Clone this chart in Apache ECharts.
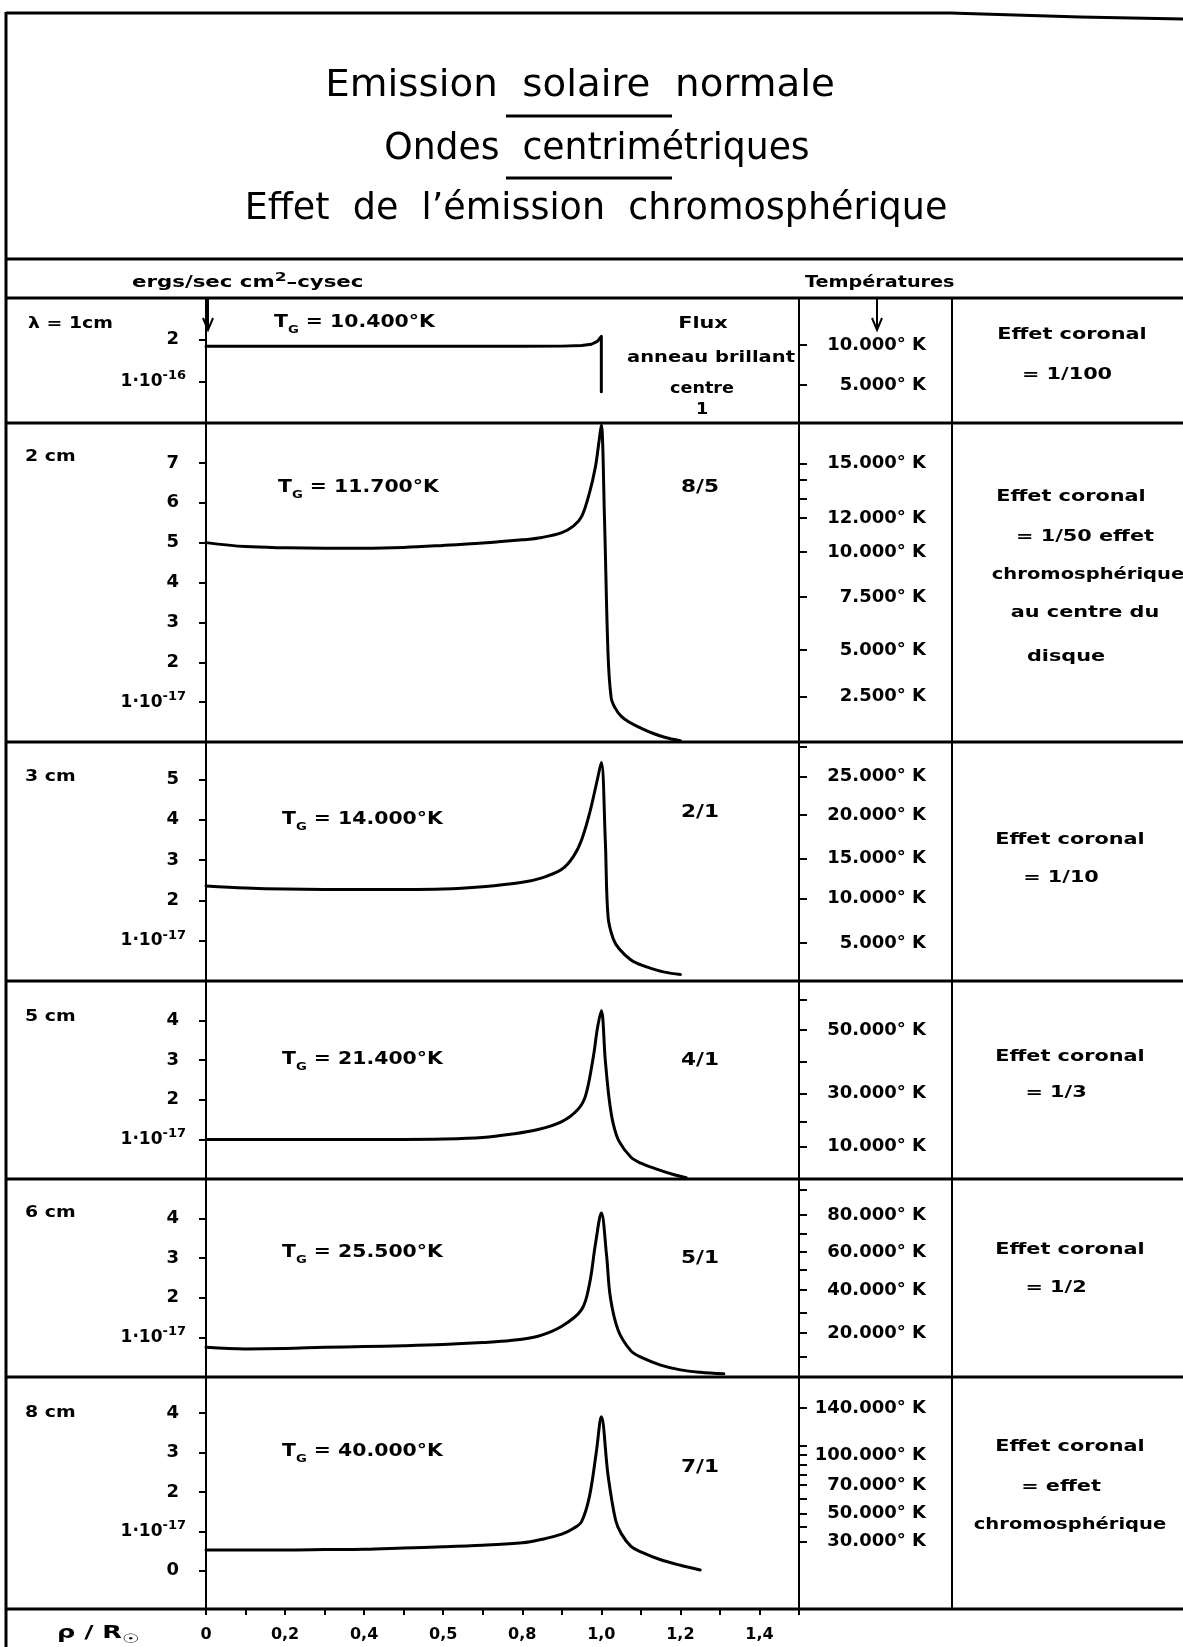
<!DOCTYPE html>
<html><head><meta charset="utf-8">
<script src="https://cdn.jsdelivr.net/npm/echarts@6/dist/echarts.min.js"></script>
<style>html,body{margin:0;padding:0;background:#fff}#c{width:1183px;height:1647px}</style>
</head><body><div id="c"></div>
<script>
// ---------------- DATA ----------------
const wavelengths = ['λ = 1cm', '2 cm', '3 cm', '5 cm', '6 cm', '8 cm'];
const tgValues = ['10.400°K', '11.700°K', '14.000°K', '21.400°K', '25.500°K', '40.000°K'];
const fluxHeader = ['Flux', 'anneau brillant', 'centre', '1'];
const fluxRatios = ['', '8/5', '2/1', '4/1', '5/1', '7/1'];
const coronalNotes = [
  ['Effet coronal', '= 1/100'],
  ['Effet coronal', '= 1/50 effet', 'chromosphérique', 'au centre du', 'disque'],
  ['Effet coronal', '= 1/10'],
  ['Effet coronal', '= 1/3'],
  ['Effet coronal', '= 1/2'],
  ['Effet coronal', '= effet', 'chromosphérique']
];

// curves: rho / R_sun  vs flux
const rho1 = [0, 0.2, 0.4, 0.6, 0.8, 0.9, 0.95, 0.975, 0.99, 1.0, 1.0];
const flux1 = [1.84, 1.84, 1.84, 1.84, 1.84, 1.845, 1.86, 1.89, 1.96, 2.08, 0.75];

const rho2 = [0, 0.1, 0.2, 0.3, 0.4, 0.5, 0.6, 0.7, 0.8, 0.85, 0.9, 0.93, 0.95, 0.97, 0.985, 0.995, 1.0, 1.008, 1.017, 1.025, 1.035, 1.05, 1.07, 1.1, 1.13, 1.16, 1.2];
const flux2 = [5.0, 4.9, 4.87, 4.86, 4.86, 4.88, 4.93, 4.99, 5.07, 5.13, 5.25, 5.42, 5.65, 6.25, 6.9, 7.6, 7.95, 5.6, 2.2, 1.1, 0.85, 0.65, 0.5, 0.35, 0.22, 0.12, 0.03];

const rho3 = [0, 0.1, 0.2, 0.3, 0.4, 0.5, 0.6, 0.7, 0.8, 0.85, 0.9, 0.93, 0.95, 0.97, 0.99, 1.0, 1.01, 1.017, 1.03, 1.045, 1.075, 1.1, 1.13, 1.16, 1.2];
const flux3 = [2.36, 2.31, 2.28, 2.27, 2.27, 2.27, 2.28, 2.34, 2.45, 2.56, 2.77, 3.1, 3.5, 4.15, 5.0, 5.42, 3.5, 1.6, 1.05, 0.8, 0.52, 0.4, 0.3, 0.22, 0.16];

const rho4 = [0, 0.1, 0.2, 0.3, 0.4, 0.5, 0.6, 0.7, 0.77, 0.84, 0.9, 0.94, 0.96, 0.98, 0.99, 1.0, 1.01, 1.02, 1.03, 1.045, 1.075, 1.1, 1.14, 1.18, 1.215];
const flux4 = [1.0, 1.0, 1.0, 1.0, 1.0, 1.0, 1.01, 1.05, 1.13, 1.25, 1.45, 1.75, 2.1, 3.1, 3.8, 4.25, 3.0, 2.0, 1.4, 0.95, 0.55, 0.4, 0.25, 0.12, 0.03];

const rho5 = [0, 0.1, 0.2, 0.3, 0.4, 0.5, 0.6, 0.7, 0.77, 0.84, 0.9, 0.95, 0.97, 0.985, 1.0, 1.013, 1.023, 1.043, 1.075, 1.1, 1.15, 1.2, 1.25, 1.31];
const flux5 = [0.75, 0.71, 0.72, 0.75, 0.77, 0.79, 0.82, 0.87, 0.92, 1.03, 1.28, 1.7, 2.35, 3.35, 4.14, 3.1, 2.0, 1.17, 0.66, 0.5, 0.3, 0.18, 0.12, 0.08];

const rho6 = [0, 0.1, 0.2, 0.3, 0.4, 0.5, 0.6, 0.7, 0.8, 0.85, 0.9, 0.93, 0.95, 0.97, 0.987, 1.0, 1.017, 1.036, 1.05, 1.075, 1.1, 1.15, 1.2, 1.25];
const flux6 = [0.53, 0.53, 0.53, 0.54, 0.55, 0.58, 0.61, 0.65, 0.71, 0.8, 0.93, 1.08, 1.25, 1.89, 2.99, 3.91, 2.42, 1.29, 0.95, 0.62, 0.48, 0.28, 0.14, 0.02];

// tick labels
const xTickValues = [0, 0.2, 0.4, 0.6, 0.8, 1.0, 1.2, 1.4];
const xTickLabels = ['0', '0,2', '0,4', '0,5', '0,8', '1,0', '1,2', '1,4'];
const fluxTickValues = [[1, 2], [1, 2, 3, 4, 5, 6, 7], [1, 2, 3, 4, 5], [1, 2, 3, 4], [1, 2, 3, 4], [0, 1, 2, 3, 4]];
const fluxTickLabels = [
  ['1·10^-16', '2'],
  ['1·10^-17', '2', '3', '4', '5', '6', '7'],
  ['1·10^-17', '2', '3', '4', '5'],
  ['1·10^-17', '2', '3', '4'],
  ['1·10^-17', '2', '3', '4'],
  ['0', '1·10^-17', '2', '3', '4']
];
// temperature scale ticks, expressed on each panel's flux scale
const tempTickPos = [
  [1.87, 0.91],
  [6.99, 6.57, 6.11, 5.62, 4.76, 3.64, 2.31, 1.14],
  [5.81, 5.07, 4.12, 3.04, 2.05, 0.94],
  [4.52, 3.76, 2.96, 2.16, 1.45, 0.82],
  [4.72, 4.09, 3.63, 3.16, 2.70, 2.20, 1.61, 1.11, 0.51],
  [4.13, 3.17, 2.94, 2.69, 2.43, 2.18, 1.82, 1.46, 1.11, 0.74]
];
const tempTickLabels = [
  ['10.000° K', '5.000° K'],
  ['15.000° K', '', '', '12.000° K', '10.000° K', '7.500° K', '5.000° K', '2.500° K'],
  ['', '25.000° K', '20.000° K', '15.000° K', '10.000° K', '5.000° K'],
  ['', '50.000° K', '', '30.000° K', '', '10.000° K'],
  ['', '80.000° K', '', '60.000° K', '', '40.000° K', '', '20.000° K', ''],
  ['140.000° K', '', '100.000° K', '', '', '70.000° K', '', '50.000° K', '', '30.000° K']
];

// ---------------- LAYOUT ----------------
const FONT = '"DejaVu Sans", "Liberation Sans", sans-serif';
const TFONT = '"DejaVu Sans", "Liberation Sans", sans-serif';
const bounds = [298, 423, 742, 981, 1179, 1377, 1609];
const yMin = [0, 0, 0, 0, 0, -0.97];
const yMax = [3, 8, 5.93, 5, 5, 4.92];
const X0 = 206, PW = 593, XMAX = 1.5;
const rhoList = [rho1, rho2, rho3, rho4, rho5, rho6];
const fluxList = [flux1, flux2, flux3, flux4, flux5, flux6];

function idxOf(arr, v) { return arr.findIndex(a => Math.abs(a - v) < 1e-6); }

const grids = [], xAxes = [], yAxes = [], series = [];
for (let i = 0; i < 6; i++) {
  grids.push({ left: X0, width: PW, top: bounds[i], height: bounds[i + 1] - bounds[i] });
  const last = i === 5;
  const minorTicks = [];
  for (let k = 0; k <= 15; k++) minorTicks.push(k / 10);
  xAxes.push({
    gridIndex: i, type: 'value', min: 0, max: XMAX, show: last,
    position: 'bottom',
    axisLine: { show: false, onZero: false },
    axisTick: { show: true, length: 6, customValues: minorTicks, lineStyle: { color: '#000', width: 2 } },
    axisLabel: {
      customValues: xTickValues, margin: 18, color: '#000', fontSize: 16, fontWeight: 'bold', fontFamily: FONT,
      formatter: v => { const k = idxOf(xTickValues, v); return k < 0 ? '' : xTickLabels[k]; }
    },
    splitLine: { show: false }
  });
  yAxes.push({
    gridIndex: i, type: 'value', min: yMin[i], max: yMax[i], position: 'left',
    axisLine: { show: true, onZero: false, lineStyle: { color: '#000', width: 2 } },
    axisTick: { show: true, length: 7, customValues: fluxTickValues[i], lineStyle: { color: '#000', width: 2 } },
    axisLabel: {
      customValues: fluxTickValues[i], margin: 20, color: '#000',
      formatter: v => {
        const k = idxOf(fluxTickValues[i], v); if (k < 0) return '';
        const s = fluxTickLabels[i][k];
        if (s.indexOf('^') >= 0) { const p = s.split('^'); return '{b|' + p[0] + '}{s|' + p[1] + '}'; }
        return '{n|' + s + '}';
      },
      rich: {
        b: { fontSize: 17, fontWeight: 'bold', fontFamily: FONT, color: '#000', lineHeight: 24 },
        s: { fontSize: 13, fontWeight: 'bold', fontFamily: FONT, color: '#000', lineHeight: 12, verticalAlign: 'top' },
        n: { fontSize: 18, fontWeight: 'bold', fontFamily: FONT, color: '#000', padding: [0, 7, 0, 0] }
      }
    },
    splitLine: { show: false }
  });
  yAxes.push({
    gridIndex: i, type: 'value', min: yMin[i], max: yMax[i], position: 'right',
    axisLine: { show: true, onZero: false, lineStyle: { color: '#000', width: 2 } },
    axisTick: { show: true, length: 8, customValues: tempTickPos[i], lineStyle: { color: '#000', width: 2 } },
    axisLabel: {
      customValues: tempTickPos[i], margin: 127, align: 'right', color: '#000',
      fontSize: 18, fontWeight: 'bold', fontFamily: FONT,
      formatter: v => { const k = idxOf(tempTickPos[i], v); return k < 0 ? '' : tempTickLabels[i][k]; }
    },
    splitLine: { show: false }
  });
  series.push({
    type: 'line', xAxisIndex: i, yAxisIndex: 2 * i,
    data: rhoList[i].map((r, k) => [r, fluxList[i][k]]),
    symbol: 'none', smooth: i === 0 ? false : 0.35,
    lineStyle: { color: '#000', width: 3, join: 'round', cap: 'round' }, silent: true, animation: false
  });
}

// ---------------- GRAPHICS (frame + texts) ----------------
const g = [];
function hline(y, x1, x2, w) { g.push({ type: 'line', shape: { x1: x1, y1: y, x2: x2, y2: y }, style: { stroke: '#000', lineWidth: w } }); }
function vline(x, y1, y2, w) { g.push({ type: 'line', shape: { x1: x, y1: y1, x2: x, y2: y2 }, style: { stroke: '#000', lineWidth: w } }); }
function text(t, x, y, size, opts) {
  opts = opts || {};
  g.push({ type: 'text', x: x, y: y, scaleX: opts.sx || 1, style: Object.assign({
    text: t, fill: '#000', fontSize: size, fontWeight: opts.weight || 'bold', fontFamily: opts.family || FONT,
    align: opts.align || 'center', verticalAlign: 'middle'
  }, opts.rich ? { rich: opts.rich } : {}) });
}
function arrow(x, y1, y2) {
  vline(x, y1, y2, 2);
  g.push({ type: 'polyline', shape: { points: [[x - 5, y2 - 12], [x, y2], [x + 5, y2 - 12]] }, style: { stroke: '#000', lineWidth: 2, fill: null } });
}

// frame
g.push({ type: 'polyline', shape: { points: [[6, 13], [950, 13], [1080, 17], [1183, 19]] }, style: { stroke: '#000', lineWidth: 3, fill: null } });
vline(6, 12, 1647, 3);
[259, 298].concat(bounds.slice(1)).forEach(y => hline(y, 6, 1183, 3));
vline(952, 298, 1609, 2);
arrow(208, 298, 330);
arrow(877, 298, 330);

// title
text('Emission  solaire  normale', 580, 86, 38, { weight: 'normal', family: TFONT, sx: 1.02 });
text('Ondes  centrimétriques', 597, 149, 38, { weight: 'normal', family: TFONT, sx: 0.95 });
text('Effet  de  l’émission  chromosphérique', 596, 209, 38, { weight: 'normal', family: TFONT, sx: 0.96 });
hline(116, 506, 672, 3);
hline(178, 506, 672, 3);

// header row
text('{h|ergs/sec cm}{s|2}{h|–cysec}', 132, 283, 16, { align: 'left', sx: 1.42, rich: {
  h: { fontSize: 15, fontWeight: 'bold', fontFamily: FONT, lineHeight: 22 },
  s: { fontSize: 12, fontWeight: 'bold', fontFamily: FONT, lineHeight: 12, verticalAlign: 'top' } } });
text('Températures', 805, 283, 15, { align: 'left', sx: 1.28 });

// per-panel texts
const wlY = [324, 457, 777, 1017, 1213, 1413];
const tgY = [323, 488, 820, 1060, 1253, 1452];
const tgX = [274, 278, 282, 282, 282, 282];
const ratioY = [0, 487, 812, 1060, 1258, 1467];
const noteY = [[335, 375], [497, 537, 575, 613, 657], [840, 878], [1057, 1093], [1250, 1288], [1447, 1487, 1525]];
const noteX = [[1072, 1067], [1071, 1085, 1088, 1085, 1066], [1070, 1061], [1070, 1056], [1070, 1056], [1070, 1061, 1070]];
const tgRich = {
  t: { fontSize: 17, fontWeight: 'bold', fontFamily: FONT, lineHeight: 26 },
  g: { fontSize: 11, fontWeight: 'bold', fontFamily: FONT, lineHeight: 11, verticalAlign: 'bottom' }
};
for (let i = 0; i < 6; i++) {
  text(wavelengths[i], i === 0 ? 28 : 25, wlY[i], 16, { align: 'left', sx: 1.18 });
  text('{t|T}{g|G}{t| = ' + tgValues[i] + '}', tgX[i], tgY[i], 17, { align: 'left', rich: tgRich, sx: 1.2 });
  if (fluxRatios[i]) text(fluxRatios[i], 700, ratioY[i], 18, { sx: 1.2 });
  coronalNotes[i].forEach((s, k) => text(s, noteX[i][k], noteY[i][k], 16, { sx: s === 'chromosphérique' ? 1.22 : 1.3 }));
}
const fhY = [324, 358, 389, 410];
const fhX = [703, 711, 702, 702];
const fhSx = [1.3, 1.3, 1.1, 1.1];
fluxHeader.forEach((s, k) => text(s, fhX[k], fhY[k], k === 1 ? 15 : 16, { sx: fhSx[k] }));

// x-axis title
text('{a|ρ}{a| / }{a|R}{s|☉}', 57, 1634, 17, { align: 'left', sx: 1.5, rich: {
  a: { fontSize: 17, fontWeight: 'bold', fontFamily: FONT, lineHeight: 24 },
  s: { fontSize: 13, fontWeight: 'bold', fontFamily: FONT, lineHeight: 12, verticalAlign: 'bottom' } } });

const chart = echarts.init(document.getElementById('c'), null, { renderer: 'canvas' });
chart.setOption({
  backgroundColor: '#fff',
  animation: false,
  grid: grids, xAxis: xAxes, yAxis: yAxes, series: series,
  graphic: { elements: g }
});
</script></body></html>
